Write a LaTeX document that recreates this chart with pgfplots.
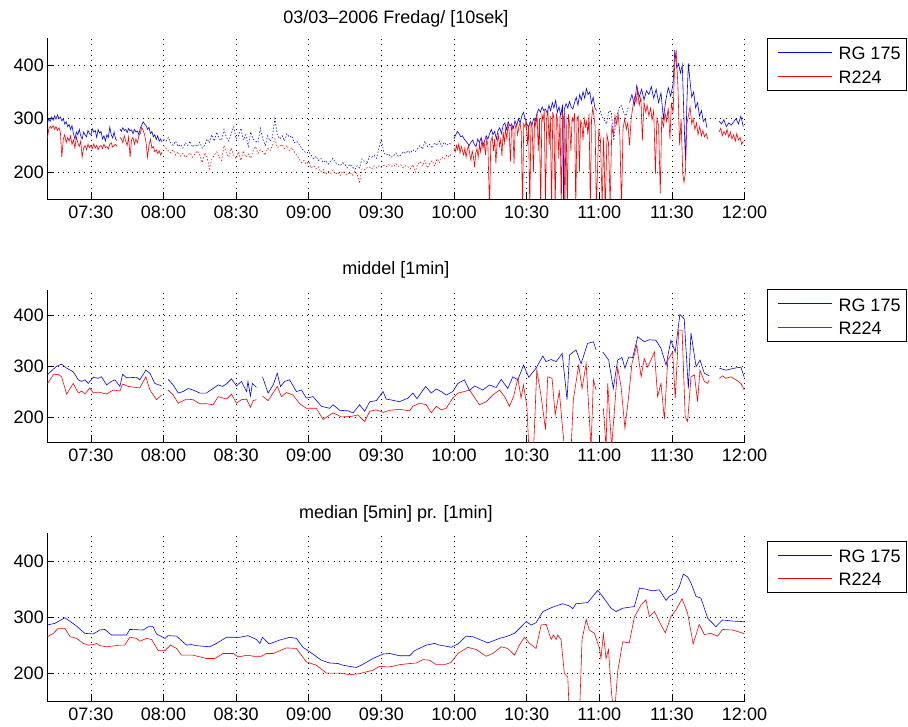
\documentclass[border=0pt]{standalone}
\usepackage{fontspec}
\setmainfont{Liberation Sans}
\usepackage{pgfplots}
\pgfplotsset{compat=1.18}
\pgfplotsset{
  mstyle/.style={
    scale only axis, anchor=south west, width=697.2pt,
    xmin=432, xmax=720, ymin=150, ymax=450,
    axis x line*=bottom, axis y line*=left,
    axis line style={-, black, line width=0.7pt},
    xtick={450,480,510,540,570,600,630,660,690,720},
    xticklabels={07:30,08:00,08:30,09:00,09:30,10:00,10:30,11:00,11:30,12:00},
    ytick={200,300,400}, yticklabels={200,300,400},
    tick align=inside, major tick length=7pt,
    tick style={black, line width=0.6pt},
    grid=major, major grid style={black, line width=0.6pt, dash pattern=on 0.8pt off 4.5pt},
    ticklabel style={font=\fontsize{18}{20}\selectfont},
    xticklabel shift=3pt,
    title style={font=\fontsize{18}{20}\selectfont, at={(0.5,1)}, anchor=base, yshift=9pt},
    unbounded coords=jump, clip=true,
  },
  bl/.style={color=blue, line width=0.6pt},
  rd/.style={color=red, line width=0.6pt},
  bls/.style={color=blue, line width=0.6pt, dash pattern=on 1.4pt off 1.8pt},
  rds/.style={color=red, line width=0.6pt, dash pattern=on 1.4pt off 1.8pt},
}
\tikzset{
  lgk/.style={line width=0.8pt},
  lgt/.style={anchor=base west, inner sep=0pt, font=\fontsize{18}{20}\selectfont},
}
\begin{document}
\begin{tikzpicture}
% ---------------- top: 10 s ----------------
\begin{axis}[mstyle, at={(47.3pt,527pt)}, height=160.7pt, title={03/03–2006 Fredag/ [10sek]}]
\addplot[bl] coordinates {
(432.0,290)(432.6,300)(433.2,295)(433.8,303)(434.4,297)(435.0,305)(435.6,299)(436.2,307)(436.8,300)(437.4,303)
(438.0,296)(438.6,300)(439.2,290)(439.8,294)(440.4,285)(441.0,289)(441.6,280)(442.2,287)(442.8,272)(443.4,262)
(444.0,275)(444.6,270)(445.2,280)(445.8,268)(446.4,262)(447.0,275)(447.6,270)(448.2,266)(448.8,278)(449.4,272)
(450.0,270)(450.6,281)(451.2,275)(451.8,278)(452.4,265)(453.0,280)(453.6,273)(454.2,276)(454.8,262)(455.4,268)
(456.0,258)(456.6,270)(457.2,265)(457.8,284)(458.4,270)(459.0,264)(459.6,275)(460.2,262)(460.8,259)(461.4,nan)
(462.0,281)(462.6,276)(463.2,283)(463.8,278)(464.4,280)(465.0,274)(465.6,282)(466.2,277)(466.8,279)(467.4,272)
(468.0,280)(468.6,275)(469.2,277)(469.8,270)(470.4,282)(471.0,288)(471.6,294)(472.2,290)(472.8,287)(473.4,280)
(474.0,284)(474.6,272)(475.2,276)(475.8,266)(476.4,270)(477.0,261)(477.6,268)(478.2,258)(478.8,262)(479.4,256)
};
\addplot[bls] coordinates {
(480,262)(481,258)(482,265)(483,255)(484,250)(485,258)(486,248)(487,252)(488,245)(489,255)
(490,250)(491,258)(492,247)(493,252)(494,248)(495,256)(496,245)(497,250)(498,262)(499,255)
(500,270)(501,258)(502,275)(503,262)(504,260)(505,280)(506,265)(507,258)(508,272)(509,285)
(510,262)(511,268)(512,282)(513,260)(514,270)(515,248)(516,275)(517,262)(518,258)(519,255)
(520,282)(521,262)(522,250)(523,268)(524,258)(525,265)(526,300)(527,270)(528,262)(529,268)
(530,258)(531,272)(532,265)(533,268)(534,255)(535,258)(536,252)(537,245)(538,240)(539,235)
(540,238)(541,232)(542,225)(543,230)(544,222)(545,226)(546,218)(547,222)(548,215)(549,220)
(550,226)(551,218)(552,215)(553,212)(554,218)(555,214)(556,208)(557,215)(558,210)(559,205)
(560,212)(561,208)(562,225)(563,220)(564,215)(565,230)(566,228)(567,232)(568,226)(569,245)
(570,262)(571,236)(572,232)(573,234)(574,228)(575,230)(576,236)(577,229)(578,232)(579,238)
(580,235)(581,240)(582,236)(583,242)(584,238)(585,244)(586,250)(587,243)(588,258)(589,248)
(590,252)(591,245)(592,255)(593,250)(594,258)(595,248)(596,256)(597,250)(598,254)(599,252)
};
\addplot[bl] coordinates {
(600.0,262)(600.7,270)(601.4,276)(602.1,272)(602.8,266)(603.5,268)(604.2,262)(604.9,258)(605.6,254)(606.3,250)
(607.0,256)(607.7,260)(608.4,252)(609.1,248)(609.8,262)(610.5,255)(611.2,265)(611.9,250)(612.6,258)(613.3,268)
(614.0,262)(614.7,272)(615.4,280)(616.1,270)(616.8,276)(617.5,262)(618.2,278)(618.9,283)(619.6,272)(620.3,288)
(621.0,292)(621.7,280)(622.4,294)(623.1,286)(623.8,290)(624.5,282)(625.2,296)(625.9,287)(626.6,300)(627.3,292)
(628.0,305)(628.7,312)(629.4,300)(630.1,290)(630.8,284)(631.5,295)(632.2,288)(632.9,300)(633.6,296)(634.3,310)
(635.0,318)(635.7,312)(636.4,322)(637.1,315)(637.8,318)(638.5,310)(639.2,325)(639.9,315)(640.6,330)(641.3,320)
(642.0,334)(642.7,312)(643.4,322)(644.1,305)(644.8,326)(645.2,140)(645.6,318)(646.3,328)(647.0,320)(647.7,332)
(648.4,322)(649.1,318)(649.8,330)(650.5,340)(651.2,325)(651.9,345)(652.6,335)(653.3,350)(654.0,338)(654.7,356)
(655.4,345)(656.1,350)(656.8,328)(657.5,340)(658.2,320)(658.9,315)
};
\addplot[bls] coordinates {
(660,320)(661,305)(662,298)(663,290)(664,315)(665,312)(666,259)(667,300)(668,318)(669,325)(670,312)(671,305)(672,322)
};
\addplot[bl] coordinates {
(672.5,330)(673.5,345)(674.5,325)(675.5,362)(676.5,340)(677.5,355)(678.5,335)(679.5,352)(680.5,345)(681.5,360)
(682.5,338)(683.5,355)(684.5,330)(685.5,348)(686.5,300)(687.5,335)(688.5,358)(689.5,342)(690.5,365)(691.2,428)
(692.0,395)(692.8,403)(693.5,385)(694.3,400)(695.0,300)(695.6,222)(696.2,330)(696.8,403)(697.5,370)(698.2,340)
(699.0,350)(699.8,320)(700.6,330)(701.4,305)(702.2,315)(703.0,295)(703.8,300)(704.5,283)(707,nan)
(709.5,295)(710.5,290)(711.5,298)(712.5,285)(713.5,292)(714.5,288)(715.5,294)(716.5,300)(717.5,290)(718.5,305)(719.5,285)
};
\addplot[rd] coordinates {
(432.0,262)(432.6,280)(433.2,286)(433.8,282)(434.4,287)(435.0,280)(435.6,285)(436.2,278)(436.8,283)(437.4,275)
(438.0,228)(438.6,262)(439.2,270)(439.8,255)(440.4,265)(441.0,258)(441.6,268)(442.2,252)(442.8,260)(443.4,245)
(444.0,266)(444.6,255)(445.2,248)(445.8,258)(446.4,228)(447.0,245)(447.6,250)(448.2,242)(448.8,252)(449.4,246)
(450.0,250)(450.6,244)(451.2,253)(451.8,245)(452.4,250)(453.0,242)(453.6,248)(454.2,250)(454.8,244)(455.4,252)
(456.0,246)(456.6,248)(457.2,243)(457.8,252)(458.4,255)(459.0,247)(459.6,250)(460.2,252)(460.8,248)(461.4,nan)
(462.0,265)(462.6,262)(463.2,255)(463.8,268)(464.4,258)(465.0,250)(465.6,266)(466.2,228)(466.8,260)(467.4,265)
(468.0,252)(468.6,262)(469.2,255)(469.8,268)(470.4,272)(471.0,284)(471.6,278)(472.2,270)(472.8,255)(473.4,228)
(474.0,250)(474.6,262)(475.2,245)(475.8,248)(476.4,238)(477.0,242)(477.6,235)(478.2,240)(478.8,232)(479.4,238)
};
\addplot[rds] coordinates {
(480,250)(481,245)(482,240)(483,236)(484,242)(485,232)(486,238)(487,230)(488,235)(489,228)
(490,232)(491,236)(492,228)(493,234)(494,240)(495,232)(496,218)(497,236)(498,228)(499,206)
(500,225)(501,232)(502,238)(503,228)(504,222)(505,250)(506,235)(507,228)(508,245)(509,232)
(510,225)(511,238)(512,222)(513,240)(514,228)(515,234)(516,226)(517,240)(518,248)(519,235)
(520,242)(521,238)(522,232)(523,245)(524,240)(525,250)(526,262)(527,246)(528,248)(529,252)
(530,244)(531,250)(532,240)(533,246)(534,238)(535,232)(536,225)(537,218)(538,222)(539,215)
(540,220)(541,208)(542,212)(543,206)(544,210)(545,200)(546,205)(547,196)(548,202)(549,198)
(550,204)(551,196)(552,200)(553,194)(554,202)(555,198)(556,195)(557,200)(558,194)(559,202)
(560,196)(561,182)(562,206)(563,204)(564,208)(565,210)(566,206)(567,212)(568,208)(569,212)
(570,209)(571,213)(572,210)(573,214)(574,212)(575,210)(576,216)(577,211)(578,214)(579,208)
(580,212)(581,210)(582,206)(583,214)(584,200)(585,215)(586,220)(587,212)(588,222)(589,208)
(590,216)(591,222)(592,212)(593,225)(594,218)(595,228)(596,224)(597,232)(598,228)(599,236)
};
\addplot[rd] coordinates {
(600,245)(600.5,238)(601,250)(601.5,242)(602,253)(602.5,236)(603,248)(603.5,240)(604,232)(604.5,245)
(605,228)(605.5,242)(606,250)(606.5,234)(607,222)(607.5,240)(608,230)(608.5,209)(609,236)(609.5,244)
(610,228)(610.5,252)(611,238)(611.5,260)(612,245)(612.5,255)(613,232)(613.5,262)(614,250)(614.7,130)
(615.2,258)(615.8,266)(616.3,240)(616.8,262)(617.3,216)(617.8,255)(618.3,270)(618.8,248)(619.3,262)(619.8,230)
(620.3,275)(620.8,255)(621.3,280)(621.8,262)(622.3,290)(622.8,275)(623.3,220)(623.8,288)(624.3,280)(624.8,216)
(625.3,285)(625.8,290)(626.3,270)(626.8,285)(627.3,292)(627.8,275)(628.3,130)(628.8,290)(629.3,284)(629.8,296)
(630.3,250)(630.8,288)(631.3,130)(631.8,294)(632.3,282)(632.8,200)(633.3,298)(633.8,286)(634.3,310)(634.8,240)
(635.3,300)(635.8,130)(636.3,310)(636.8,296)(637.3,315)(637.8,130)(638.3,300)(638.8,316)(639.3,250)(639.8,305)
(640.3,130)(640.8,312)(641.3,300)(641.8,130)(642.3,310)(642.8,296)(643.3,225)(643.8,305)(644.3,130)(644.8,312)
(645.3,300)(645.8,130)(646.3,305)(646.8,130)(647.3,308)(647.8,285)(648.3,240)(648.8,302)(649.3,295)(649.8,310)
(650.3,130)(650.8,300)(651.3,305)(651.8,200)(652.3,296)(652.8,290)(653.3,260)(653.8,300)(654.3,285)(654.8,295)
(655.3,270)(655.8,310)(656.3,130)(656.8,298)(657.3,320)(657.8,305)(658.3,285)(658.8,130)
(659.8,280)(660.5,260)(661.2,140)(661.8,265)(662.5,130)(663.2,270)(663.8,255)(664.5,140)(665.2,285)(665.8,270)
(666.5,305)(667.2,290)(667.8,309)(668.5,270)(669.2,130)(669.8,280)(670.5,300)(671.2,280)(671.8,292)(672.5,250)
(673.2,300)(673.8,320)(674.5,340)(675.2,330)(675.8,353)(676.5,325)(677.2,340)(677.8,259)(678.5,330)(679.2,312)
(679.8,325)(680.5,305)(681.2,320)(681.8,298)(682.5,315)(683.2,197)(683.8,300)(684.5,288)(685.2,160)(685.8,300)
(686.5,285)(687.2,310)(687.8,295)(688.5,320)(689.2,262)(689.8,330)(690.5,310)(691.2,409)(691.8,425)(692.5,360)
(693.2,250)(693.8,300)(694.5,197)(695.0,181)(695.6,200)(696.2,290)(696.8,305)(697.5,322)(698.2,290)(698.8,300)
(699.5,280)(700.2,292)(700.8,270)(701.5,285)(702.2,268)(702.8,278)(703.5,266)(704.2,272)(704.8,262)(707,nan)
(709.5,275)(710.2,282)(710.8,268)(711.5,276)(712.2,270)(712.8,280)(713.5,265)(714.2,275)(714.8,262)(715.5,270)
(716.2,258)(716.8,272)(717.5,260)(718.2,265)(718.8,252)(719.5,258)
};
\end{axis}
% ---------------- middle: 1 min mean ----------------
\begin{axis}[mstyle, at={(47.3pt,283.7pt)}, height=152.3pt, title={middel [1min]}]
\addplot[bl] coordinates {
(432.0,283)(434.5,294)(435.9,300)(437.9,304)(440.0,296)(442.7,289)(444.8,273)(446.2,270)(447.5,273)(448.9,266)
(451.0,278)(453.0,276)(454.4,279)(456.5,263)(458.5,270)(459.9,273)(462.0,260)(463.1,284)(464.7,277)(468.9,278)
(470.2,273)(472.7,292)(474.4,286)(476.4,266)(479.2,261)(480.5,nan)
(481.9,274)(484.0,263)(486.1,247)(488.1,250)(490.2,256)(492.2,253)(495.0,247)(497.7,247)(500.5,256)(502.6,263)
(504.4,260)(506.0,265)(508.1,275)(510.1,261)(512.2,270)(514.3,250)(514.9,270)(515.9,241)(516.7,266)(518.4,258)(519.6,nan)
(520.9,279)(523.2,247)(525.3,263)(527.0,286)(528.3,260)(530.1,270)(532.1,273)(534.9,250)(537.0,253)(539.0,237)
(541.8,240)(545.2,221)(548.6,217)(550.0,224)(552.8,213)(556.2,212)(558.3,208)(561.0,224)(563.1,211)(565.2,230)
(567.9,232)(570.7,250)(572.0,235)(573.4,234)(577.5,230)(581.0,237)(583.0,247)(584.7,236)(588.3,260)(590.6,247)
(592.7,255)(594.7,250)(596.8,243)(599.5,250)(601.6,266)(604.3,273)(606.4,252)(608.5,261)(611.9,253)(614.7,263)
(617.4,258)(619.5,274)(622.2,256)(624.3,279)(626.4,273)(628.7,302)(630.9,278)(633.9,296)(636.7,320)(638.0,309)
(640.1,313)(642.2,309)(644.7,325)(646.7,234)(647.7,322)(650.4,332)(652.5,305)(655.2,345)(657.6,348)(658.7,332)(660.0,nan)
(661.4,328)(663.9,312)(665.8,256)(667.6,312)(669.4,317)(670.6,296)(672.2,318)(673.8,317)(675.9,358)(678.6,348)
(680.7,352)(683.4,351)(685.5,335)(687.6,302)(689.6,351)(691.4,328)(693.3,402)(695.1,393)(696.8,256)(697.9,365)
(700.0,299)(701.6,312)(703.4,286)(705.4,281)(707.5,nan)
(709.6,296)(712.3,292)(715.8,296)(718.5,298)(719.9,278)
};
\addplot[rd] coordinates {
(432.0,265)(434.5,283)(436.5,284)(437.9,279)(440.0,245)(442.7,266)(444.8,247)(446.2,251)(447.5,245)(449.6,257)
(451.0,247)(453.0,249)(456.5,245)(459.2,253)(462.0,251)(463.1,265)(465.4,260)(470.2,257)(472.7,279)(474.4,253)
(477.1,234)(479.2,243)(480.5,nan)
(481.9,253)(484.0,243)(486.1,227)(489.5,235)(492.2,234)(495.0,226)(497.7,226)(500.5,224)(502.6,240)(506.0,235)
(508.1,245)(510.1,227)(512.2,234)(514.3,235)(515.9,219)(517.0,232)(518.4,234)(519.6,nan)
(520.9,241)(523.2,232)(527.0,260)(528.7,240)(530.8,248)(533.5,243)(536.3,226)(539.0,217)(543.1,217)(545.9,195)
(550.0,208)(553.5,200)(557.6,201)(560.3,204)(563.1,191)(565.2,211)(567.9,214)(570.7,209)(573.4,213)(577.5,215)
(581.7,212)(583.0,221)(585.8,227)(588.5,224)(590.6,208)(592.7,221)(594.7,214)(596.8,217)(599.5,237)(601.6,247)
(604.3,250)(606.4,253)(607.8,243)(610.5,224)(613.3,230)(616.0,243)(618.8,253)(620.9,240)(622.9,221)(624.6,240)
(626.4,276)(627.7,237)(628.7,263)(630.1,221)(630.9,140)(632.8,129)(634.2,292)(636.0,240)(637.8,175)(638.7,279)
(640.5,276)(641.8,204)(643.5,250)(644.9,175)(645.6,142)(648.4,140)(649.3,234)(651.5,302)(652.9,256)(654.6,305)
(656.6,140)(657.6,273)(658.7,253)(660.0,nan)
(661.7,217)(662.8,140)(663.5,266)(665.1,140)(667.6,297)(669.0,260)(670.6,178)(672.0,234)(673.5,305)(675.5,341)
(677.3,279)(678.6,315)(680.0,298)(682.8,328)(684.1,240)(685.5,266)(686.9,195)(688.3,312)(690.3,328)(691.4,237)
(692.8,371)(694.2,371)(695.5,201)(696.5,191)(697.9,279)(699.3,283)(700.6,230)(701.6,292)(703.4,270)(704.8,266)
(705.4,273)(707.5,nan)
(709.6,276)(711.0,281)(712.3,276)(714.4,279)(716.5,273)(718.5,266)(719.9,253)
};
\end{axis}
% ---------------- bottom: 5 min median ----------------
\begin{axis}[mstyle, at={(47.3pt,25pt)}, height=167.7pt, title={median [5min] pr. [1min]}]
\addplot[bl] coordinates {
(432.0,286)(435.2,289)(439.3,299)(444.1,284)(447.5,271)(451.0,270)(453.7,277)(455.8,278)(458.5,268)(464.7,268)
(466.1,278)(471.6,277)(473.7,283)(475.7,283)(477.1,270)(480.6,262)(481.9,267)(485.4,266)(489.5,250)(491.6,251)
(493.6,249)(499.1,247)(501.9,253)(506.0,264)(511.5,264)(514.9,267)(518.4,260)(519.8,253)(520.9,264)(523.6,252)
(528.0,259)(532.1,264)(534.9,262)(537.6,246)(540.4,238)(545.2,223)(548.6,218)(552.1,217)(554.1,214)(559.6,210)
(561.7,214)(566.5,226)(570.7,234)(573.4,235)(577.5,231)(581.7,231)(583.7,240)(588.5,250)(592.0,253)(594.0,250)
(596.8,248)(598.8,246)(601.6,252)(605.0,266)(607.8,265)(614.0,254)(618.8,262)(621.5,265)(625.0,271)(626.4,277)
(629.8,292)(631.9,286)(633.9,290)(636.7,310)(640.8,318)(644.9,324)(647.7,320)(649.1,315)(650.4,324)(655.2,326)
(657.3,337)(659.4,348)(661.4,337)(664.9,316)(666.9,310)(669.7,316)(674.5,319)(676.6,352)(679.3,350)(682.1,347)
(684.8,349)(687.6,330)(688.9,337)(691.7,344)(693.1,355)(694.7,377)(696.5,372)(697.9,361)(700.0,337)(702.0,334)
(704.8,298)(708.2,283)(710.9,295)(715.1,293)(719.5,292)(720,291)
};
\addplot[rd] coordinates {
(432.0,265)(434.5,271)(436.5,280)(439.3,280)(441.4,265)(444.1,262)(446.9,253)(448.9,250)(451.0,251)(452.4,253)
(453.7,249)(456.5,247)(462.0,250)(464.0,250)(466.1,264)(468.9,262)(470.2,257)(473.0,262)(475.1,260)(477.8,240)
(480.6,240)(482.9,250)(485.4,244)(487.4,232)(492.2,232)(497.7,226)(501.2,226)(504.6,235)(508.8,235)(510.8,229)
(514.9,232)(517.0,230)(520.4,230)(522.5,235)(525.3,235)(530.8,245)(534.9,244)(539.0,220)(543.1,214)(547.3,200)
(552.8,200)(556.9,197)(561.0,199)(566.5,205)(569.3,212)(572.0,211)(573.4,211)(577.5,215)(581.7,217)(584.4,218)
(587.2,224)(589.9,223)(592.7,215)(596.1,215)(598.8,219)(601.6,235)(605.7,246)(609.2,242)(613.3,230)(616.0,235)
(619.5,247)(622.2,244)(625.0,232)(627.0,250)(629.1,264)(631.2,253)(633.9,244)(636.0,286)(638.1,287)(640.1,260)
(641.1,268)(642.2,260)(642.9,268)(644.2,260)(645.6,199)(647.0,193)(647.7,120)(651.8,120)(652.9,260)(654.6,296)
(655.9,277)(658.0,271)(660.1,244)(660.7,226)(661.7,270)(662.8,226)(663.8,242)(665.1,163)(666.2,120)(667.6,202)
(669.7,256)(672.4,254)(674.5,300)(677.3,322)(679.3,331)(680.7,301)(682.8,310)(685.5,286)(687.3,272)(689.6,301)
(691.7,313)(694.2,333)(696.5,307)(698.8,252)(701.3,287)(703.4,269)(706.1,271)(708.9,266)(710.9,278)(715.1,277)
(719.5,271)(720,270)
};
\end{axis}
% ---------------- legends ----------------
\draw[draw=black, fill=white, line width=0.6pt] (767.3pt,687.7pt) rectangle (906.6pt,636pt);
\draw[draw=black, fill=white, line width=0.6pt] (767.3pt,436.5pt) rectangle (906.6pt,384.8pt);
\draw[draw=black, fill=white, line width=0.6pt] (767.3pt,185pt) rectangle (906.6pt,133.3pt);
\draw[lgk, blue] (778.3pt,673.5pt) -- (831.7pt,673.5pt);
\draw[lgk, red]  (778.3pt,649.5pt) -- (831.7pt,649.5pt);
\draw[lgk, blue] (778.3pt,422.5pt) -- (831.7pt,422.5pt);
\draw[lgk, red]  (778.3pt,398.5pt) -- (831.7pt,398.5pt);
\draw[lgk, blue] (778.3pt,170.5pt) -- (831.7pt,170.5pt);
\draw[lgk, red]  (778.3pt,147.5pt) -- (831.7pt,147.5pt);
\node[lgt] at (838.3pt,666pt) {RG 175};
\node[lgt] at (838.3pt,642.7pt) {R224};
\node[lgt] at (838.3pt,414.8pt) {RG 175};
\node[lgt] at (838.3pt,391.5pt) {R224};
\node[lgt] at (838.3pt,163.3pt) {RG 175};
\node[lgt] at (838.3pt,140pt) {R224};
\pgfresetboundingbox
\path[use as bounding box] (0pt,0pt) rectangle (908pt,726pt);
\end{tikzpicture}
\end{document}
